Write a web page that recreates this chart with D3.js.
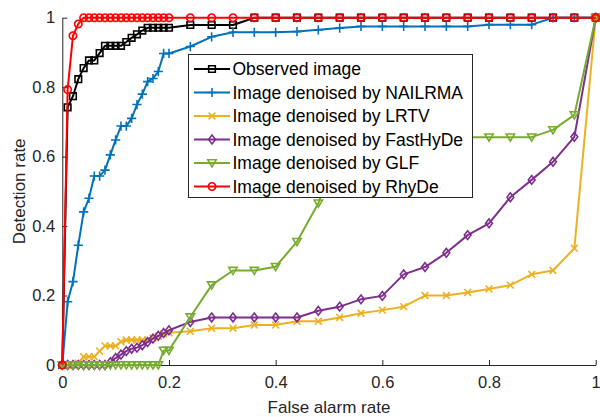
<!DOCTYPE html>
<html>
<head>
<meta charset="utf-8">
<script src="https://cdn.jsdelivr.net/npm/d3@7/dist/d3.min.js"></script>
<style>
  html, body { margin: 0; padding: 0; background: #fff; }
  svg { display: block; font-family: "Liberation Sans", Arial, Helvetica, sans-serif; }
</style>
</head>
<body>
<svg id="chart" width="600" height="417"></svg>
<script>
// False alarm rate sample points (dense near zero, then every 0.04)
const farGrid = [0, 0.01, 0.02, 0.03, 0.04, 0.05, 0.06, 0.07, 0.08, 0.09, 0.10,
  0.11, 0.12, 0.13, 0.14, 0.15, 0.16, 0.17, 0.18, 0.19, 0.20,
  0.24, 0.28, 0.32, 0.36, 0.40, 0.44, 0.48, 0.52, 0.56, 0.60,
  0.64, 0.68, 0.72, 0.76, 0.80, 0.84, 0.88, 0.92, 0.96, 1.00];

// Detection rate for each method at the points above
const observed = [0, 0.742, 0.774, 0.823, 0.855, 0.877, 0.877, 0.898, 0.919, 0.919, 0.919,
  0.919, 0.930, 0.942, 0.952, 0.963, 0.971, 0.971, 0.971, 0.971, 0.971,
  0.979, 0.979, 0.979, 1, 1, 1, 1, 1, 1, 1,
  1, 1, 1, 1, 1, 1, 1, 1, 1, 1];
const nailrma = [0, 0.182, 0.240, 0.345, 0.441, 0.480, 0.544, 0.544, 0.561, 0.605, 0.648,
  0.688, 0.688, 0.710, 0.750, 0.780, 0.816, 0.825, 0.845, 0.897, 0.897,
  0.917, 0.945, 0.958, 0.958, 0.958, 0.960, 0.965, 0.970, 0.975, 0.975,
  0.975, 0.975, 0.975, 0.975, 0.980, 0.980, 0.980, 1, 1, 1];
const lrtv = [0, 0, 0, 0.005, 0.024, 0.024, 0.024, 0.040, 0.055, 0.055, 0.055,
  0.067, 0.072, 0.072, 0.072, 0.072, 0.072, 0.078, 0.083, 0.089, 0.093,
  0.097, 0.106, 0.106, 0.115, 0.115, 0.126, 0.126, 0.137, 0.149, 0.158,
  0.168, 0.200, 0.200, 0.209, 0.219, 0.230, 0.261, 0.272, 0.336, 1];
const fasthyde = [0, 0, 0, 0, 0, 0, 0, 0, 0, 0.008, 0.020,
  0.030, 0.040, 0.047, 0.050, 0.057, 0.066, 0.076, 0.084, 0.092, 0.100,
  0.124, 0.137, 0.137, 0.137, 0.137, 0.137, 0.156, 0.168, 0.189, 0.199,
  0.261, 0.282, 0.323, 0.374, 0.408, 0.483, 0.533, 0.585, 0.657, 1];
const glf = [0, 0, 0, 0, 0, 0, 0, 0, 0, 0, 0,
  0, 0, 0, 0, 0, 0, 0, 0, 0.042, 0.042,
  0.138, 0.230, 0.272, 0.272, 0.283, 0.355, 0.466, 0.630, 0.656, 0.656,
  0.656, 0.656, 0.656, 0.656, 0.656, 0.656, 0.656, 0.677, 0.720, 1];
const rhyde = [0, 0.793, 0.948, 0.982, 1, 1, 1, 1, 1, 1, 1,
  1, 1, 1, 1, 1, 1, 1, 1, 1, 1,
  1, 1, 1, 1, 1, 1, 1, 1, 1, 1,
  1, 1, 1, 1, 1, 1, 1, 1, 1, 1];

const seriesNames = ["Observed image", "Image denoised by NAILRMA", "Image denoised by LRTV",
  "Image denoised by FastHyDe", "Image denoised by GLF", "Image denoised by RhyDe"];
const seriesValues = [observed, nailrma, lrtv, fasthyde, glf, rhyde];
const seriesColors = ["#000000", "#0072BD", "#EDB120", "#7E2F8E", "#77AC30", "#FF0000"];
const seriesMarkers = ["square", "plus", "times", "diamond", "triangleDown", "circle"];

const xTicks = [0, 0.2, 0.4, 0.6, 0.8, 1];
const yTicks = [0, 0.2, 0.4, 0.6, 0.8, 1];
const xTitle = "False alarm rate";
const yTitle = "Detection rate";

const svg = d3.select("#chart");
const axisColor = "#262626";
const plot = { left: 62.3, right: 595.7, top: 17.7, bottom: 365 };

const x = d3.scaleLinear().domain([0, 1]).range([plot.left, plot.right]);
const y = d3.scaleLinear().domain([0, 1]).range([plot.bottom, plot.top]);

const fmt = d => (d === 0 || d === 1) ? String(d) : d.toFixed(1);

// axes with inward ticks
const gx = svg.append("g").attr("transform", `translate(0,${plot.bottom})`)
  .call(d3.axisBottom(x).tickValues(xTicks).tickFormat(fmt)
    .tickSizeInner(-5).tickSizeOuter(0).tickPadding(11));
const gy = svg.append("g").attr("transform", `translate(${plot.left},0)`)
  .call(d3.axisLeft(y).tickValues(yTicks).tickFormat(fmt)
    .tickSizeInner(-5).tickSizeOuter(0).tickPadding(7));
[gx, gy].forEach(g => {
  g.select(".domain").attr("stroke", axisColor).attr("stroke-width", 1);
  g.selectAll(".tick line").attr("stroke", axisColor).attr("stroke-width", 1);
  g.selectAll(".tick text").attr("fill", axisColor)
    .style("font-size", "16.5px").style("font-family", "'Liberation Sans', Arial, sans-serif");
});

svg.append("text").attr("x", 329).attr("y", 413).attr("text-anchor", "middle")
  .attr("fill", axisColor).style("font-size", "17px").text(xTitle);
svg.append("text").attr("transform", `translate(24.5,${(plot.top + plot.bottom) / 2}) rotate(-90)`)
  .attr("text-anchor", "middle").attr("fill", axisColor).style("font-size", "17px").text(yTitle);

// marker outlines centred on the origin
function markerPath(kind) {
  switch (kind) {
    case "square": { const h = 3.3; return `M${-h},${-h}H${h}V${h}H${-h}Z`; }
    case "plus": { const h = 4.6; return `M${-h},0H${h}M0,${-h}V${h}`; }
    case "times": { const h = 3.4; return `M${-h},${-h}L${h},${h}M${-h},${h}L${h},${-h}`; }
    case "diamond": { const w = 3.4, h = 4.4; return `M0,${-h}L${w},0L0,${h}L${-w},0Z`; }
    case "triangleDown": { const w = 4.2, t = 3.2, b = 4.0; return `M${-w},${-t}H${w}L0,${b}Z`; }
    case "circle": { const r = 3.7; return `M${r},0A${r},${r} 0 1,1 ${-r},0A${r},${r} 0 1,1 ${r},0Z`; }
  }
}

const line = d3.line().x(d => x(d[0])).y(d => y(d[1]));
const plotG = svg.append("g");

seriesValues.forEach((vals, i) => {
  const pts = farGrid.map((f, j) => [f, vals[j]]);
  const g = plotG.append("g");
  g.append("path").datum(pts).attr("d", line)
    .attr("fill", "none").attr("stroke", seriesColors[i])
    .attr("stroke-width", 2).attr("stroke-linejoin", "round");
  g.selectAll("path.mk").data(pts).join("path").attr("class", "mk")
    .attr("transform", d => `translate(${x(d[0])},${y(d[1])})`)
    .attr("d", markerPath(seriesMarkers[i]))
    .attr("fill", "none").attr("stroke", seriesColors[i]).attr("stroke-width", 1.6);
});

// legend
const leg = { x: 188.5, y: 54.5, w: 284, h: 143, rowY0: 69, rowGap: 23.5 };
const lg = svg.append("g");
lg.append("rect").attr("x", leg.x).attr("y", leg.y).attr("width", leg.w).attr("height", leg.h)
  .attr("fill", "#fff").attr("stroke", axisColor).attr("stroke-width", 1);
seriesNames.forEach((name, i) => {
  const cy = leg.rowY0 + i * leg.rowGap;
  const row = lg.append("g");
  row.append("line").attr("x1", 194).attr("x2", 230).attr("y1", cy).attr("y2", cy)
    .attr("stroke", seriesColors[i]).attr("stroke-width", 2);
  row.append("path").attr("transform", `translate(212,${cy})`)
    .attr("d", markerPath(seriesMarkers[i]))
    .attr("fill", "none").attr("stroke", seriesColors[i]).attr("stroke-width", 1.6);
  row.append("text").attr("x", 232.5).attr("y", cy).attr("dy", "0.36em")
    .attr("fill", "#000").style("font-size", "17.5px").text(name);
});
</script>
</body>
</html>
